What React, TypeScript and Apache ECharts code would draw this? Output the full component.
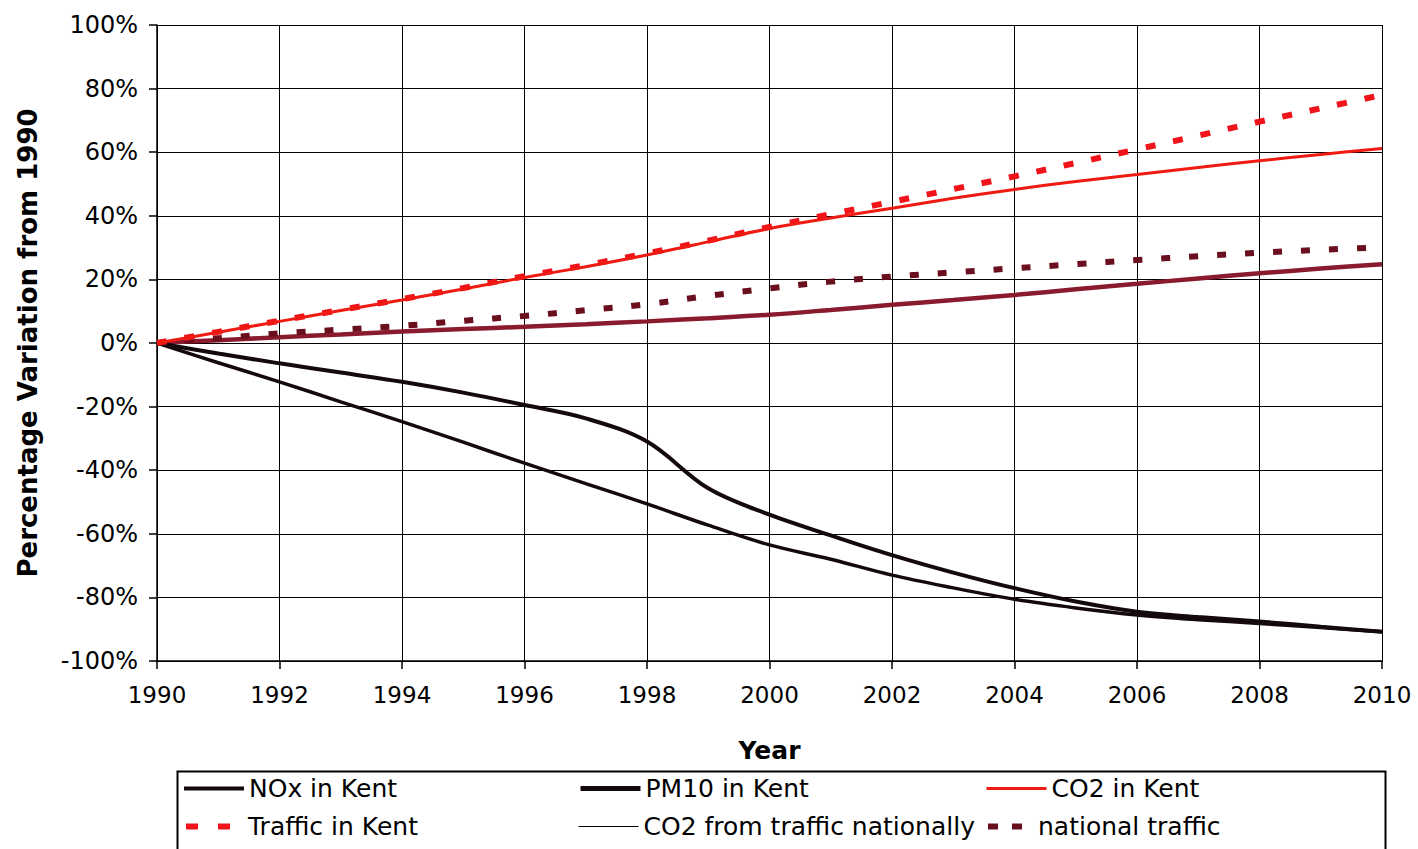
import React, { useEffect, useRef } from "react";
import * as echarts from "echarts";

const years = [1990, 1991, 1992, 1993, 1994, 1995, 1996, 1997, 1998, 1999, 2000, 2001, 2002, 2003, 2004, 2005, 2006, 2007, 2008, 2009, 2010];

const noxKent = [0, -6.2, -12.2, -18.5, -24.7, -31.2, -37.8, -44.2, -50.6, -57.3, -63.5, -68, -73, -77, -80.6, -83.3, -85.5, -87, -88.2, -89.5, -90.8];
const pm10Kent = [0, -3.3, -6.4, -9.3, -12.2, -15.6, -19.5, -23.7, -31, -45.7, -54, -60.5, -66.7, -72.2, -77.1, -81.3, -84.5, -86.2, -87.6, -89.2, -90.8];
const co2Kent = [0, 3.4, 6.8, 10.2, 13.5, 17, 20.6, 24, 27.7, 31.8, 36, 39.3, 42.4, 45.5, 48.3, 50.8, 53, 55.2, 57.3, 59.3, 61.2];
const trafficKent = [0, 3.5, 7, 10.4, 13.8, 17.3, 21, 24.5, 28.2, 32.2, 36.5, 40.5, 44.4, 48.4, 52.4, 56.6, 60.9, 65.2, 69.6, 73.8, 78];
const co2TrafficNational = [0, 0.9, 1.8, 2.7, 3.6, 4.4, 5.1, 5.9, 6.8, 7.8, 8.9, 10.4, 12, 13.5, 15.1, 16.9, 18.6, 20.3, 21.9, 23.4, 24.8];
const nationalTraffic = [0, 1.5, 3, 4.2, 5.4, 7, 8.5, 10.3, 12.2, 14.8, 17.2, 19.3, 20.9, 22.2, 23.5, 24.8, 26.1, 27.3, 28.4, 29.3, 30.1];

const seriesNames = ["NOx in Kent", "PM10 in Kent", "CO2 in Kent", "Traffic in Kent", "CO2 from traffic nationally", "national traffic"];

const FONT = "DejaVu Sans";

export default function App() {
  const ref = useRef<HTMLDivElement>(null);
  useEffect(() => {
    if (!ref.current) return;
    const chart = echarts.init(ref.current, null, { renderer: "svg" });
    const pts = (arr: number[]) => arr.map((v, i) => [years[i], v]);
    const lineSeries = (name: string, data: number[], color: string, width: number, type: any, z: number) => ({
      name,
      type: "line",
      data: pts(data),
      symbol: "none",
      smooth: 0.35,
      z,
      lineStyle: { color, width, type, cap: "butt" },
      itemStyle: { color },
    });
    const legendText = { fontSize: 25, fontFamily: FONT, color: "#000" };
    const legendAt = (name: string, left: number, top: number, itemWidth: number, lineStyle: any) => ({
      left,
      top,
      padding: 0,
      itemWidth,
      itemHeight: 14,
      textStyle: legendText,
      selectedMode: false,
      itemStyle: { opacity: 0 },
      data: [{ name, lineStyle, itemStyle: { opacity: 0 } }],
    });
    chart.setOption({
      animation: false,
      backgroundColor: "#fff",
      grid: { left: 157, right: 36, top: 25, bottom: 188 },
      xAxis: {
        type: "value",
        min: 1990,
        max: 2010,
        interval: 2,
        name: "Year",
        nameLocation: "middle",
        nameGap: 77,
        nameTextStyle: { fontSize: 25, fontWeight: "bold", fontFamily: FONT, color: "#000" },
        axisLine: { show: true, onZero: false, lineStyle: { color: "#000", width: 1.5 } },
        axisTick: { show: true, length: 8, lineStyle: { color: "#000", width: 1.5 } },
        axisLabel: { margin: 22, fontSize: 23, fontFamily: FONT, color: "#000", formatter: (v: number) => String(v) },
        splitLine: { show: true, lineStyle: { color: "#000", width: 1 } },
      },
      yAxis: {
        type: "value",
        min: -100,
        max: 100,
        interval: 20,
        name: "Percentage Variation from 1990",
        nameLocation: "middle",
        nameGap: 116,
        nameTextStyle: { fontSize: 26, fontWeight: "bold", fontFamily: FONT, color: "#000" },
        axisLine: { show: true, lineStyle: { color: "#000", width: 1.5 } },
        axisTick: { show: true, length: 8, lineStyle: { color: "#000", width: 1.5 } },
        axisLabel: { margin: 19, fontSize: 24, fontFamily: FONT, color: "#000", formatter: "{value}%" },
        splitLine: { show: true, lineStyle: { color: "#000", width: 1 } },
      },
      legend: [
        legendAt(seriesNames[0], 182, 776, 60, { width: 4, type: "solid" }),
        legendAt(seriesNames[1], 578, 776, 60, { width: 5, type: "solid" }),
        legendAt(seriesNames[2], 985, 776, 60, { width: 3, type: "solid" }),
        legendAt(seriesNames[3], 183, 814, 57, { width: 6, type: [12, 20] }),
        legendAt(seriesNames[4], 578, 814, 60, { color: "#000", width: 1, type: "solid" }),
        legendAt(seriesNames[5], 985, 814, 45, { width: 6, type: [10, 14] }),
      ],
      graphic: [
        {
          type: "rect",
          left: 175,
          top: 769,
          shape: { x: 0, y: 0, width: 1208, height: 79 },
          style: { fill: "none", stroke: "#000", lineWidth: 2 },
          silent: true,
        },
      ],
      series: [
        lineSeries(seriesNames[4], co2TrafficNational, "#8a1b2e", 4.5, "solid", 2),
        lineSeries(seriesNames[5], nationalTraffic, "#6a0f1e", 6, [9, 19], 2),
        lineSeries(seriesNames[0], noxKent, "#140a0e", 3.5, "solid", 3),
        lineSeries(seriesNames[1], pm10Kent, "#140a0e", 4, "solid", 3),
        lineSeries(seriesNames[3], trafficKent, "#f0141a", 6, [10, 18], 4),
        lineSeries(seriesNames[2], co2Kent, "#ef1a12", 3, "solid", 5),
      ],
    });
    return () => chart.dispose();
  }, []);
  return (
    <div
      ref={ref}
      style={{ position: "fixed", left: 0, top: 0, width: 1418, height: 849, background: "#fff" }}
    />
  );
}
